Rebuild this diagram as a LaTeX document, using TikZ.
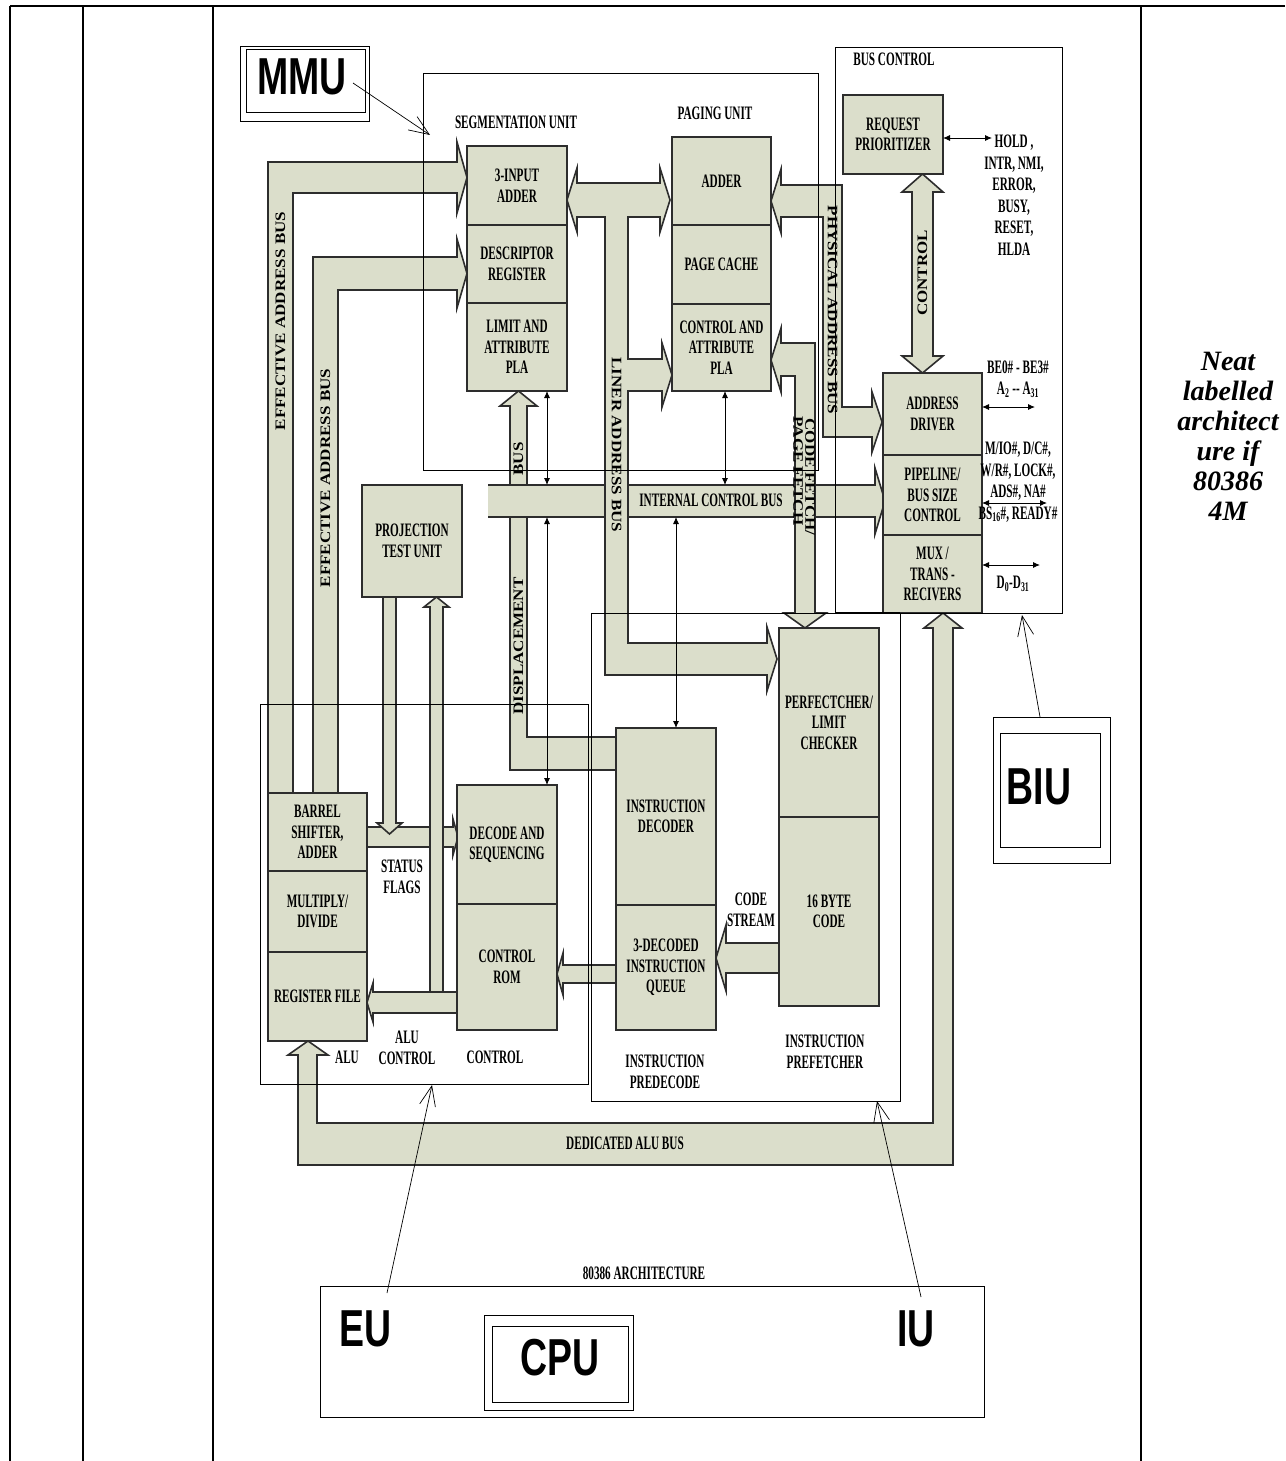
\documentclass[tikz,border=0pt]{standalone}
\usepackage{fontspec}
\usepackage{graphicx}
\setmainfont{Liberation Serif}
\newfontfamily\condserif[FakeStretch=0.59]{Liberation Serif}
\newfontfamily\bigsans[FakeStretch=0.72]{Liberation Sans}
\usetikzlibrary{arrows.meta}
\definecolor{busfill}{RGB}{219,222,203}
\definecolor{linec}{RGB}{45,45,45}
\newcommand\dlab{\condserif\bfseries\fontsize{19}{20.5}\selectfont}
\newcommand\dlabw{\condserif\bfseries\fontsize{19}{21.5}\selectfont}
\newcommand\vlab{\bfseries\fontsize{17}{19}\selectfont}
\newcommand\biglab{\bigsans\bfseries\fontsize{52}{56}\selectfont}
\newcommand\notefont{\bfseries\itshape\fontsize{28}{30}\selectfont}
\newcommand\ubox[6]{%
  \pgfmathsetmacro\ubW{#4-#2}\pgfmathsetmacro\ubH{#5-#3}%
  \node[ubx, minimum width=\ubW pt, minimum height=\ubH pt] (#1) at ({(#2+#4)/2},{(#3+#5)/2}) {#6};}
\newcommand\vtext[4]{\node[vl, rotate=#1] (#2) at (#3) {\scalebox{1}[0.85]{#4}};}
\begin{document}
\begin{tikzpicture}[x=1pt,y=-1pt,
  ubx/.style={draw=linec, fill=busfill, line width=1.6pt, inner sep=0pt, align=center, font=\dlab},
  bus/.style={draw=linec, fill=busfill, line width=1.6pt, line join=miter},
  busline/.style={draw=linec, line width=1.6pt},
  grp/.style={draw=black, line width=0.9pt},
  tbl/.style={draw=black, line width=2.2pt},
  lab/.style={inner sep=0pt, align=center, font=\dlab},
  vl/.style={inner sep=0pt, font=\vlab},
  big/.style={inner sep=0pt, font=\biglab},
  dbl/.style={draw=black, line width=0.9pt, {Latex[length=7pt,width=6pt]}-{Latex[length=7pt,width=6pt]}},
  ptr/.style={draw=black, line width=0.7pt, -{Straight Barb[length=20pt,width=16pt]}}]
\useasboundingbox (0,0) rectangle (1285,1461);
\fill[white] (0,0) rectangle (1285,1461);
% table
\draw[tbl] (10,6) -- (1285,6);
\draw[tbl] (10,6) -- (10,1461);
\draw[tbl] (83,6) -- (83,1461);
\draw[tbl] (213,6) -- (213,1461);
\draw[tbl] (1141,6) -- (1141,1461);
\node[inner sep=0pt, align=center, font=\notefont] (note) at (1228,436) {Neat\\labelled\\architect\\ure if\\80386\\4M};
% buses
\draw[bus] (268,793) -- (268,162) -- (457,162) -- (457,142) -- (467,177.5) -- (457,213) -- (457,193) -- (293,193) -- (293,793);
\draw[bus] (313,793) -- (313,257) -- (457,257) -- (457,239) -- (467,273.5) -- (457,308) -- (457,290) -- (338,290) -- (338,793);
\draw[bus] (500,406) -- (518.5,391) -- (537,406) -- (527,406) -- (527,737) -- (616,737) -- (616,770) -- (510,770) -- (510,406) -- cycle;
\fill[busfill] (488,485) -- (875,485) -- (875,468) -- (885,501) -- (875,534) -- (875,517) -- (488,517) -- cycle;
\draw[busline] (488,485) -- (875,485) -- (875,468) -- (885,501) -- (875,534) -- (875,517) -- (488,517);
\draw[bus] (567,200) -- (577,168) -- (577,183) -- (660,183) -- (660,168) -- (670,200) -- (660,232) -- (660,217) -- (628,217) -- (628,359) -- (662,359) -- (662,343) -- (672,375) -- (662,407) -- (662,391) -- (628,391) -- (628,643) -- (767,643) -- (767,627) -- (777,659) -- (767,691) -- (767,675) -- (605,675) -- (605,217) -- (577,217) -- (577,232) -- cycle;
\draw[bus] (771,201) -- (781,169) -- (781,185) -- (842,185) -- (842,407) -- (872,407) -- (872,392) -- (882,422) -- (872,452) -- (872,437) -- (823,437) -- (823,217) -- (781,217) -- (781,233) -- cycle;
\draw[bus] (771,360) -- (781,328) -- (781,343) -- (815,343) -- (815,613) -- (826,613) -- (805,628) -- (784,613) -- (795,613) -- (795,376) -- (781,376) -- (781,392) -- cycle;
\draw[bus] (922.5,174) -- (943,192) -- (933,192) -- (933,356) -- (943,356) -- (922.5,373) -- (902,356) -- (912,356) -- (912,192) -- (902,192) -- cycle;
\draw[bus] (367,827) -- (453,827) -- (453,819) -- (458,837) -- (453,855) -- (453,847) -- (367,847);
\draw[bus] (383,597) -- (383,823) -- (377,823) -- (389.5,834) -- (402,823) -- (396,823) -- (396,597);
\draw[bus] (457,992) -- (373,992) -- (373,983) -- (367,1002.5) -- (373,1022) -- (373,1013) -- (457,1013);
\draw[bus] (430,992) -- (430,607) -- (424,607) -- (436.5,597) -- (449,607) -- (443,607) -- (443,992) -- cycle;
\draw[bus] (616,965) -- (563,965) -- (563,953) -- (557,974) -- (563,995) -- (563,983) -- (616,983);
\draw[bus] (779,943) -- (726,943) -- (726,925) -- (716,958) -- (726,991) -- (726,973) -- (779,973);
\draw[bus] (308,1041) -- (328,1055) -- (317,1055) -- (317,1123) -- (933,1123) -- (933,628) -- (924,628) -- (943,613) -- (962,628) -- (953,628) -- (953,1165) -- (298,1165) -- (298,1055) -- (288,1055) -- cycle;
% units
\ubox{sa}{467}{146}{567}{225}{3-INPUT\\ADDER}
\ubox{sd}{467}{225}{567}{303}{DESCRIPTOR\\REGISTER}
\ubox{sl}{467}{303}{567}{391}{LIMIT AND\\ATTRIBUTE\\PLA}
\ubox{pa}{672}{137}{771}{225}{ADDER}
\ubox{pc}{672}{225}{771}{304}{PAGE CACHE}
\ubox{pl}{672}{304}{771}{391}{CONTROL AND\\ATTRIBUTE\\PLA}
\ubox{rp}{843}{95}{943}{174}{REQUEST\\PRIORITIZER}
\ubox{ad}{883}{373}{982}{455}{ADDRESS\\DRIVER}
\ubox{pp}{883}{455}{982}{535}{PIPELINE/\\BUS SIZE\\CONTROL}
\ubox{mx}{883}{535}{982}{613}{MUX /\\TRANS -\\RECIVERS}
\ubox{pt}{362}{485}{462}{597}{PROJECTION\\TEST UNIT}
\ubox{bs}{268}{793}{367}{871}{BARREL\\SHIFTER,\\ADDER}
\ubox{md}{268}{871}{367}{952}{MULTIPLY/\\DIVIDE}
\ubox{rf}{268}{952}{367}{1041}{REGISTER FILE}
\ubox{ds}{457}{785}{557}{904}{DECODE AND\\SEQUENCING}
\ubox{cr}{457}{904}{557}{1030}{CONTROL\\ROM}
\ubox{id}{616}{728}{716}{905}{INSTRUCTION\\DECODER}
\ubox{iq}{616}{905}{716}{1030}{3-DECODED\\INSTRUCTION\\QUEUE}
\ubox{pf}{779}{628}{879}{817}{PERFECTCHER/\\LIMIT\\CHECKER}
\ubox{bc}{779}{817}{879}{1006}{16 BYTE\\CODE}
% group frames
\draw[grp] (423,73) rectangle (818,470);
\draw[grp] (835,47) rectangle (1062,613);
\draw[line width=2pt] (835,613) -- (900,613);
\draw[grp] (260,704) rectangle (588,1084);
\draw[grp] (591,613) rectangle (900,1101);
% label frames
\draw[grp] (240,46) rectangle (369,121);
\draw[grp] (246,49) rectangle (365,112);
\node[big] (mmu) at (302,77) {MMU};
\draw[grp] (993,717) rectangle (1110,863);
\draw[grp] (1000,733) rectangle (1100,847);
\node[big] (biu) at (1039,787) {BIU};
\draw[grp] (320,1286) rectangle (984,1417);
\draw[grp] (484,1315) rectangle (633,1410);
\draw[grp] (492,1326) rectangle (628,1402);
\node[big] (cpu) at (560,1358) {CPU};
\node[big] (eu) at (366,1329) {EU};
\node[big] (iu) at (916,1329) {IU};
\node[lab] (arch) at (644,1273) {80386 ARCHITECTURE};
% thin double arrows
\draw[dbl] (547,391) -- (547,485);
\draw[dbl] (547,517) -- (547,785);
\draw[dbl] (725,391) -- (725,485);
\draw[dbl] (676,517) -- (676,728);
\draw[dbl] (943,138) -- (992,138);
\draw[dbl] (982,407) -- (1035,407);
\draw[dbl] (982,503) -- (1047,503);
\draw[dbl] (982,565) -- (1040,565);
% pointers
\draw[ptr] (353,83) -- (430,135);
\draw[ptr] (387,1293) -- (432,1085);
\draw[ptr] (921,1297) -- (877,1101);
\draw[ptr] (1040,717) -- (1022,615);
% labels
\node[lab] (segu) at (516,122) {SEGMENTATION UNIT};
\node[lab] (pgu) at (715,113) {PAGING UNIT};
\node[lab] (busc) at (894,59) {BUS CONTROL};
\node[lab] (icb) at (711,500) {INTERNAL CONTROL BUS};
\node[lab] (sf) at (402,877) {STATUS\\FLAGS};
\node[lab] (alu) at (347,1057) {ALU};
\node[lab] (aluc) at (407,1048) {ALU\\CONTROL};
\node[lab] (ctl) at (495,1057) {CONTROL};
\node[lab] (cs) at (751,910) {CODE\\STREAM};
\node[lab] (ipd) at (665,1072) {INSTRUCTION\\PREDECODE};
\node[lab] (ipf) at (825,1052) {INSTRUCTION\\PREFETCHER};
\node[lab] (dab) at (625,1143) {DEDICATED ALU BUS};
\node[lab, font=\dlabw] (hold) at (1014,195) {HOLD ,\\INTR, NMI,\\ERROR,\\BUSY,\\RESET,\\HLDA};
\node[lab, font=\dlabw] (be) at (1018,379) {BE0\# - BE3\#\\A\textsubscript{2} -- A\textsubscript{31}};
\node[lab, font=\dlabw] (mio) at (1018,482) {M/IO\#, D/C\#,\\W/R\#, LOCK\#,\\ADS\#, NA\#\\BS\textsubscript{16}\#, READY\#};
\node[lab] (dd) at (1013,584) {D\textsubscript{0}-D\textsubscript{31}};
% vertical labels
\vtext{90}{ea1}{280.5,321}{EFFECTIVE ADDRESS BUS}
\vtext{90}{ea2}{325.5,478}{EFFECTIVE ADDRESS BUS}
\vtext{90}{dbus}{518.5,459}{BUS}
\vtext{90}{disp}{518.5,646}{DISPLACEMENT}
\vtext{-90}{lin}{616.5,445}{LINER ADDRESS BUS}
\vtext{-90}{phy}{832.5,310}{PHYSICAL ADDRESS BUS}
\vtext{-90}{cf}{810,477}{CODE FETCH/}
\vtext{-90}{pf2}{798,471}{PAGE FETCH}
\vtext{90}{ctlv}{922.5,273}{CONTROL}
\end{tikzpicture}
\end{document}
